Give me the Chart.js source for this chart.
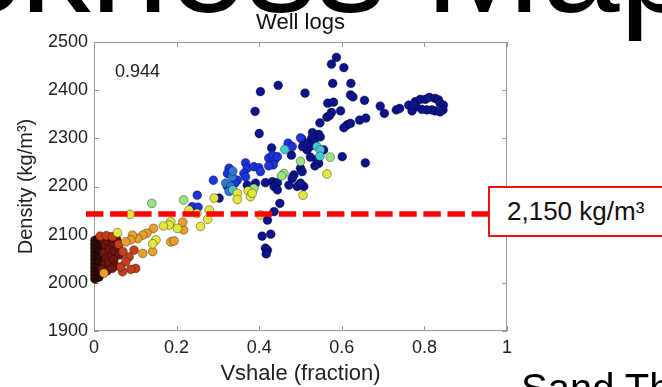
<!DOCTYPE html>
<html>
<head>
<meta charset="utf-8">
<script src="https://cdn.jsdelivr.net/npm/chart.js@4.4.1/dist/chart.umd.min.js"></script>
<style>
  body { margin: 0; background: #fff; }
  #wrap { position: relative; width: 662px; height: 387px; overflow: hidden; font-family: "Liberation Sans", Arial, sans-serif; }
  #chart { position: absolute; left: 0; top: 0; }
  .big { position: absolute; left: -244px; top: -106px; font-size: 140px; line-height: 140px; white-space: nowrap; color: #000; }
  .box { position: absolute; left: 488px; top: 186px; width: 220px; height: 51px; box-sizing: border-box;
         border: 2px solid #f01010; background: #fff; font-size: 26px; line-height: 47px; padding-left: 17px; color: #111; white-space: nowrap; }
  .sub { position: absolute; left: 521px; top: 368px; font-size: 40px; line-height: 40px; white-space: nowrap; color: #000; }
</style>
</head>
<body>
<div id="wrap">
  <canvas id="chart" width="662" height="387"></canvas>
  <div class="big">Thickness Map</div>
  <div class="box">2,150 kg/m³</div>
  <div class="sub">Sand Thickness</div>
</div>
<script>
/* ---------- DATA ---------- */
const chartTitle = 'Well logs';
const xTickLabels = ['0', '0.2', '0.4', '0.6', '0.8', '1'];
const yTickLabels = ['1900', '2000', '2100', '2200', '2300', '2400', '2500'];

const cutoffDensity = 2143;       // where the red dashed line sits
const correlationText = '0.944';
const correlationAt = [0.051, 2428];

// [Vshale, Density] pairs, grouped by marker colour
const yellowPts = [[0.564,2226],[0.506,2182],[0.403,2141],[0.347,2186],[0.347,2173],[0.373,2191],[0.379,2179],[0.383,2186],
  [0.291,2176],[0.279,2151],[0.275,2132],[0.230,2151],[0.249,2144],[0.258,2117],[0.087,2142],[0.186,2127],[0.182,2120],
  [0.168,2118],[0.202,2113],[0.057,2104],[0.150,2089],[0.142,2081]];
const greenPts = [[0.572,2261],[0.500,2252],[0.460,2227],[0.454,2222],[0.387,2196],[0.217,2172],[0.140,2165]];
const cyanPts = [[0.462,2277],[0.540,2283],[0.548,2276],[0.547,2263],[0.336,2193]];
const orangePts = [[0.217,2110],[0.215,2126],[0.142,2065],[0.118,2061],[0.144,2113],[0.186,2085],[0.194,2087],[0.128,2103],
  [0.118,2099],[0.106,2092],[0.093,2099],[0.089,2089],[0.077,2085],[0.024,2020]];
const redPts = [[0.097,2068],[0.101,2030],[0.089,2028],[0.069,2023],[0.065,2033],[0.085,2054],[0.077,2044],[0.015,2097],
  [0.030,2098],[0.045,2096],[0.060,2080],[0.070,2065]];
const lightBluePts = [[0.335,2220],[0.319,2207],[0.331,2200],[0.327,2190],[0.336,2232]];
const bluePts = [[0.289,2213],[0.250,2182],[0.238,2158],[0.252,2157],[0.323,2200],[0.327,2238],[0.323,2227],[0.347,2213],
  [0.367,2249],[0.371,2238],[0.387,2241],[0.399,2239],[0.403,2231],[0.363,2227],[0.367,2220],[0.423,2259],[0.432,2265],
  [0.437,2255],[0.444,2262],[0.434,2245],[0.423,2243],[0.470,2290],[0.480,2283],[0.341,2207],[0.500,2301]];
const darkRedPts = [[0.022,2090],[0.028,2078],[0.024,2062],[0.030,2050],[0.026,2038],[0.034,2086],[0.038,2070],[0.042,2055],
  [0.036,2042],[0.046,2082],[0.050,2066],[0.048,2048],[0.020,2028],[0.032,2025],[0.055,2090],[0.058,2075],[0.062,2058],
  [0.040,2095],[0.052,2035],[0.044,2030]];
const darkPts = [[0.002,2008],[0.002,2016],[0.002,2024],[0.002,2032],[0.002,2040],[0.002,2048],[0.002,2056],[0.002,2064],
  [0.002,2072],[0.002,2080],[0.002,2088],[0.012,2012],[0.012,2022],[0.012,2034],[0.012,2046],[0.012,2058],[0.012,2070],
  [0.012,2082],[0.012,2092]];
const navyPts = [[0.587,2468],[0.575,2454],[0.605,2447],[0.578,2414],[0.622,2414],[0.403,2397],[0.446,2410],[0.511,2394],
  [0.621,2390],[0.627,2386],[0.655,2379],[0.566,2373],[0.580,2375],[0.390,2356],[0.575,2354],[0.597,2357],[0.564,2344],
  [0.570,2347],[0.547,2332],[0.643,2338],[0.658,2342],[0.613,2328],[0.605,2322],[0.621,2331],[0.400,2310],[0.529,2312],
  [0.544,2308],[0.548,2303],[0.527,2300],[0.516,2276],[0.524,2284],[0.556,2276],[0.601,2262],[0.657,2249],[0.524,2261],
  [0.544,2248],[0.535,2243],[0.500,2238],[0.504,2231],[0.484,2224],[0.480,2217],[0.430,2280],[0.478,2265],[0.371,2203],
  [0.391,2207],[0.415,2208],[0.432,2210],[0.444,2208],[0.436,2200],[0.472,2203],[0.492,2200],[0.508,2200],[0.500,2207],
  [0.444,2193],[0.450,2165],[0.436,2148],[0.420,2130],[0.407,2097],[0.428,2101],[0.415,2072],[0.420,2068],[0.417,2060],
  [0.303,2176],[0.503,2299],[0.519,2290],[0.505,2283],[0.533,2292],[0.540,2255],
  [0.693,2367],[0.703,2352],[0.732,2359],[0.740,2362],[0.762,2369],[0.770,2357],[0.778,2376],[0.790,2381],[0.802,2381],
  [0.812,2385],[0.826,2383],[0.834,2380],[0.838,2373],[0.846,2369],[0.845,2359],[0.838,2355],[0.826,2357],[0.818,2359],
  [0.806,2359],[0.794,2360],[0.780,2366],[0.774,2369]];

/* ---------- STYLE ---------- */
const font = '"Liberation Sans", Arial, sans-serif';
Chart.defaults.font.family = font;

// first group is drawn on top
const groups = [
  [yellowPts, 'rgb(226,230,62)'],
  [greenPts, 'rgb(152,228,132)'],
  [cyanPts, 'rgb(70,200,210)'],
  [orangePts, 'rgb(232,160,45)'],
  [redPts, 'rgb(196,62,28)'],
  [lightBluePts, 'rgb(45,120,210)'],
  [bluePts, 'rgb(28,52,222)'],
  [darkRedPts, 'rgb(112,22,12)'],
  [darkPts, 'rgb(45,12,8)'],
  [navyPts, 'rgb(12,20,140)']
];

const datasets = groups.map(([pts, col]) => ({
  data: pts.map(p => ({ x: p[0], y: p[1] })),
  backgroundColor: col,
  borderColor: 'rgba(0,0,0,0.45)',
  borderWidth: 0.8,
  pointRadius: 4.4,
  clip: false
}));

/* ---------- PLUGINS ---------- */
const framePlugin = {
  id: 'frame',
  beforeDatasetsDraw(chart) {
    const { ctx, chartArea: a, scales: { x, y } } = chart;
    ctx.save();
    ctx.strokeStyle = '#9a9a9a';
    ctx.lineWidth = 1;
    ctx.strokeRect(a.left + 0.5, a.top + 0.5, a.right - a.left - 1, a.bottom - a.top - 1);
    ctx.beginPath();
    x.ticks.forEach(t => {
      const px = Math.round(x.getPixelForValue(t.value)) + 0.5;
      ctx.moveTo(px, a.bottom); ctx.lineTo(px, a.bottom - 5);
      ctx.moveTo(px, a.top); ctx.lineTo(px, a.top + 5);
    });
    y.ticks.forEach(t => {
      const py = Math.round(y.getPixelForValue(t.value)) + 0.5;
      ctx.moveTo(a.left, py); ctx.lineTo(a.left + 5, py);
      ctx.moveTo(a.right, py); ctx.lineTo(a.right - 5, py);
    });
    ctx.stroke();
    // title centred over the plot box
    ctx.fillStyle = '#111';
    ctx.font = '22px ' + font;
    ctx.textAlign = 'center';
    ctx.textBaseline = 'alphabetic';
    ctx.fillText(chartTitle, (a.left + a.right) / 2, 29);
    ctx.restore();
  }
};

const notesPlugin = {
  id: 'notes',
  afterDatasetsDraw(chart) {
    const { ctx, scales: { x, y } } = chart;
    ctx.save();
    ctx.fillStyle = '#222';
    ctx.font = '18px ' + font;
    ctx.textBaseline = 'alphabetic';
    ctx.fillText(correlationText, x.getPixelForValue(correlationAt[0]), y.getPixelForValue(correlationAt[1]));
    // red cut-off line, runs from just left of the axis to the label box
    const py = y.getPixelForValue(cutoffDensity);
    ctx.strokeStyle = '#ff0000';
    ctx.lineWidth = 5.5;
    ctx.setLineDash([17.4, 6.7]);
    ctx.beginPath();
    ctx.moveTo(x.getPixelForValue(0) - 8, py);
    ctx.lineTo(488, py);
    ctx.stroke();
    ctx.restore();
  }
};

/* ---------- CHART ---------- */
new Chart(document.getElementById('chart'), {
  type: 'scatter',
  data: { datasets },
  options: {
    responsive: false,
    animation: false,
    devicePixelRatio: 1,
    layout: { padding: { left: 0, right: 155, top: 42, bottom: 0 } },
    plugins: {
      legend: { display: false },
      tooltip: { enabled: false },
      title: { display: false }
    },
    scales: {
      x: {
        type: 'linear', min: 0, max: 1,
        grid: { display: false, drawTicks: false }, border: { display: false },
        ticks: { stepSize: 0.2, padding: 6, color: '#222', font: { size: 18 },
                 maxRotation: 0, callback: (v, i) => xTickLabels[i] },
        title: { display: true, text: 'Vshale (fraction)', color: '#222', font: { size: 22 }, padding: { top: 0, bottom: 0 } },
        afterFit: s => { s.height = 56; }
      },
      y: {
        type: 'linear', min: 1900, max: 2500,
        grid: { display: false, drawTicks: false }, border: { display: false },
        ticks: { stepSize: 100, padding: 6, color: '#222', font: { size: 18 },
                 callback: (v, i) => yTickLabels[i] },
        title: { display: true, text: 'Density (kg/m³)', color: '#222', font: { size: 20 }, padding: { top: 14, bottom: 0 } },
        afterFit: s => { s.width = 94; }
      }
    }
  },
  plugins: [framePlugin, notesPlugin]
});
</script>
</body>
</html>
